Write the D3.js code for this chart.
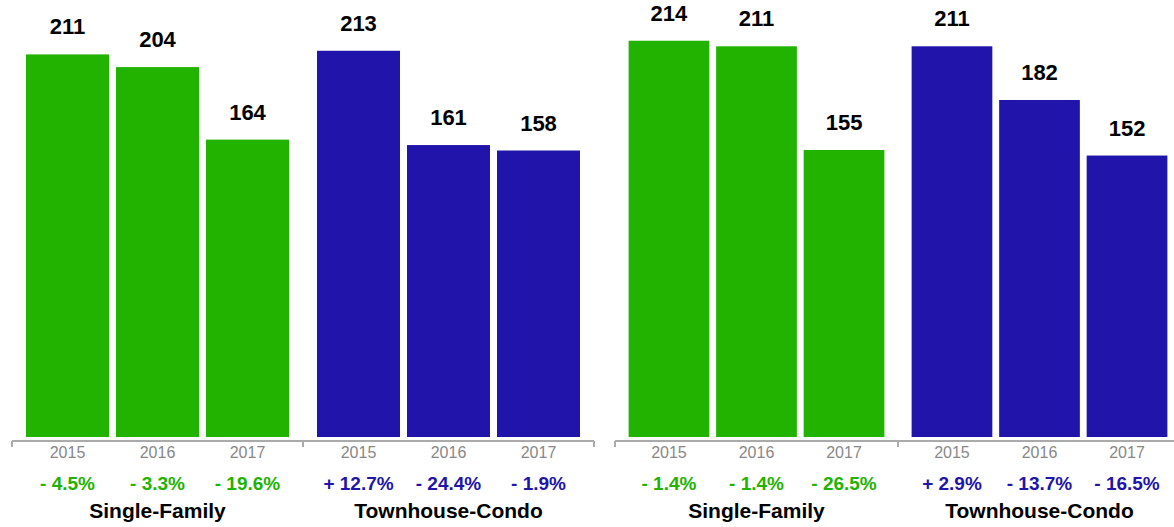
<!DOCTYPE html>
<html lang="en">
  <head>
    <meta charset="UTF-8" />
    <script src="https://cdn.jsdelivr.net/npm/d3@7/dist/d3.min.js"></script>
    <style>
      body {
        margin: 0;
        background: #fff;
        font-family: "Liberation Sans", Arial, Helvetica, sans-serif;
      }
    </style>
  </head>
  <body>
    <div class="canvas"></div>
    <script>
      // data
      const years = ["2015", "2016", "2017"];
      const groups = ["Single-Family", "Townhouse-Condo"];

      const leftSingle = [211, 204, 164];
      const leftTown = [213, 161, 158];
      const leftSinglePct = [-4.5, -3.3, -19.6];
      const leftTownPct = [12.7, -24.4, -1.9];

      const rightSingle = [214, 211, 155];
      const rightTown = [211, 182, 152];
      const rightSinglePct = [-1.4, -1.4, -26.5];
      const rightTownPct = [2.9, -13.7, -16.5];

      const colors = { "Single-Family": "#22b200", "Townhouse-Condo": "#2114aa" };

      const W = 1174,
        H = 527;
      const baseY = 437;
      const axisY = 441;

      const svg = d3
        .select(".canvas")
        .append("svg")
        .attr("width", W)
        .attr("height", H);

      const panels = [
        {
          range: [12, 594],
          yMax: 241,
          values: [leftSingle, leftTown],
          pcts: [leftSinglePct, leftTownPct],
        },
        {
          range: [615, 1181],
          yMax: 236,
          values: [rightSingle, rightTown],
          pcts: [rightSinglePct, rightTownPct],
        },
      ];

      const fmtPct = (v) => (v >= 0 ? "+ " : "- ") + Math.abs(v).toFixed(1) + "%";

      panels.forEach((p) => {
        const x0 = d3.scaleBand().domain(groups).range(p.range).padding(0);
        const y = d3.scaleLinear().domain([0, p.yMax]).range([baseY, 0]);

        const g = svg.append("g");

        // axis line with ticks at group edges
        g.append("line")
          .attr("x1", p.range[0])
          .attr("x2", p.range[1])
          .attr("y1", axisY)
          .attr("y2", axisY)
          .attr("stroke", "#aaa")
          .attr("stroke-width", 2);

        const edges = groups.map((d) => x0(d)).concat([p.range[1]]);
        g.selectAll(".tick")
          .data(edges)
          .join("line")
          .attr("x1", (d) => d)
          .attr("x2", (d) => d)
          .attr("y1", axisY)
          .attr("y2", axisY + 6)
          .attr("stroke", "#aaa")
          .attr("stroke-width", 2);

        groups.forEach((grp, gi) => {
          const x1 = d3
            .scaleBand()
            .domain(years)
            .range([x0(grp), x0(grp) + x0.bandwidth()])
            .paddingInner(7 / 90)
            .paddingOuter(14 / 90);

          const rows = years.map((yr, i) => ({
            year: yr,
            value: p.values[gi][i],
            pct: p.pcts[gi][i],
          }));

          const gg = g.append("g");

          gg.selectAll("rect")
            .data(rows)
            .join("rect")
            .attr("x", (d) => x1(d.year))
            .attr("width", x1.bandwidth())
            .attr("y", (d) => y(d.value))
            .attr("height", (d) => baseY - y(d.value))
            .attr("fill", colors[grp]);

          gg.selectAll(".val")
            .data(rows)
            .join("text")
            .attr("class", "val")
            .attr("x", (d) => x1(d.year) + x1.bandwidth() / 2)
            .attr("y", (d) => y(d.value) - 20)
            .attr("text-anchor", "middle")
            .style("font-size", "22px")
            .style("font-weight", "bold")
            .attr("fill", "#000")
            .text((d) => d.value);

          gg.selectAll(".yr")
            .data(rows)
            .join("text")
            .attr("class", "yr")
            .attr("x", (d) => x1(d.year) + x1.bandwidth() / 2)
            .attr("y", 458)
            .attr("text-anchor", "middle")
            .style("font-size", "16px")
            .attr("fill", "#888")
            .text((d) => d.year);

          gg.selectAll(".pct")
            .data(rows)
            .join("text")
            .attr("class", "pct")
            .attr("x", (d) => x1(d.year) + x1.bandwidth() / 2)
            .attr("y", 490)
            .attr("text-anchor", "middle")
            .style("font-size", "19px")
            .style("font-weight", "bold")
            .attr("fill", colors[grp])
            .text((d) => fmtPct(d.pct));

          gg.append("text")
            .attr("x", x0(grp) + x0.bandwidth() / 2)
            .attr("y", 518)
            .attr("text-anchor", "middle")
            .style("font-size", "21px")
            .style("font-weight", "bold")
            .attr("fill", "#000")
            .text(grp);
        });
      });
    </script>
  </body>
</html>
